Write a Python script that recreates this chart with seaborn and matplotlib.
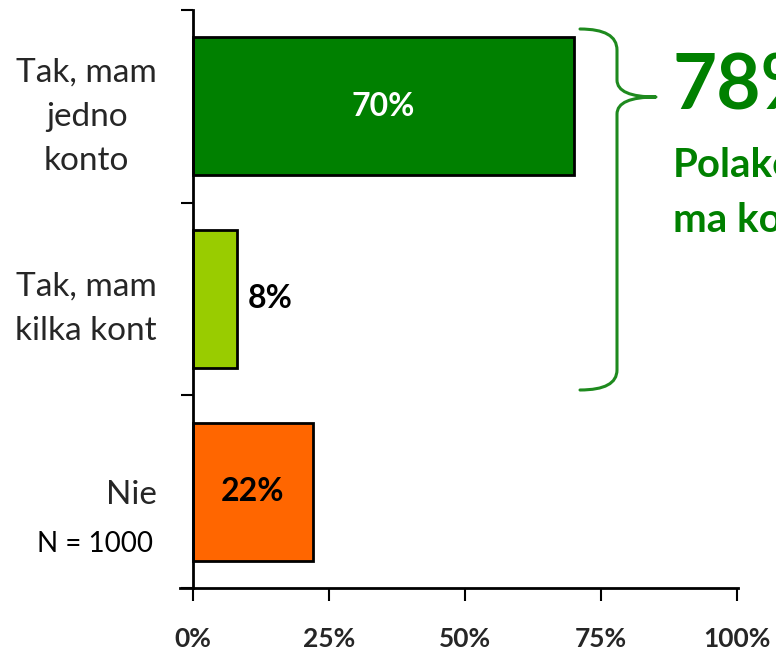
import matplotlib
matplotlib.use("Agg")
import matplotlib.pyplot as plt
import seaborn as sns
import pandas as pd
from matplotlib.path import Path
from matplotlib.patches import PathPatch

categories = ["Tak, mam\njedno\nkonto", "Tak, mam\nkilka kont", "Nie"]
values = [70, 8, 22]
bar_colors = ["#008000", "#99CC00", "#FF6600"]
value_labels = ["70%", "8%", "22%"]
label_colors = ["white", "black", "black"]
xticks = [0, 25, 50, 75, 100]
xtick_labels = ["0%", "25%", "50%", "75%", "100%"]
note = "N = 1000"
big_value = "78%"
big_text = ["Polaków", "ma konto"]

sns.set_theme(style="white")
plt.rcParams['font.family'] = ['Lato', 'DejaVu Sans']

W, H = 776, 651
fig = plt.figure(figsize=(W / 100, H / 100), dpi=100)
ax = fig.add_axes([180 / W, 1 - 588 / H, (738 - 180) / W, (588 - 10) / H])

df = pd.DataFrame({"cat": categories, "val": values})
sns.barplot(data=df, x="val", y="cat", hue="cat", palette=bar_colors,
            orient="h", width=0.716, edgecolor="black", linewidth=2,
            legend=False, ax=ax, saturation=1)

ax.set_xlim(-2.4, 100.2)
ax.set_ylim(2.5, -0.5)
ax.set_xlabel("")
ax.set_ylabel("")

for s in ["top", "right"]:
    ax.spines[s].set_visible(False)
ax.spines["left"].set_position(("data", 0))
for s in ["left", "bottom"]:
    ax.spines[s].set_color("black")
    ax.spines[s].set_linewidth(2)

ax.set_xticks(xticks)
ax.set_xticklabels(xtick_labels, fontsize=19, fontweight="bold")
ax.tick_params(axis="x", direction="out", length=9, width=1.5, color="black",
               pad=19, bottom=True)

ax.set_yticks(range(len(categories)))
ax.set_yticklabels(categories, fontsize=24, multialignment="center",
                   linespacing=1.6)
ax.tick_params(axis="y", which="major", length=0, pad=26)
ax.set_yticks([-0.5, 0.5, 1.5, 2.5], minor=True)
ax.tick_params(axis="y", which="minor", direction="out", length=9, width=1.5,
               color="black", left=True)

# value labels
for i, (v, lab, c) in enumerate(zip(values, value_labels, label_colors)):
    if v >= 15:
        ax.text(v / 2, i, lab, ha="center", va="center", fontsize=23,
                fontweight="bold", color=c)
    else:
        ax.text(v + 2.0, i, lab, ha="left", va="center", fontsize=23,
                fontweight="bold", color=c)

ax.text(-7.4, 2.27, note, ha="right", va="center", fontsize=20, color="black")

# brace
def px(x, y):
    return (x / W, 1 - y / H)

verts = [px(580, 29), px(617, 29), px(617, 50),
         px(617, 80),
         px(617, 97), px(656, 97),
         px(617, 97), px(617, 114),
         px(617, 370),
         px(617, 390), px(580, 390)]
codes = [Path.MOVETO, Path.CURVE3, Path.CURVE3,
         Path.LINETO,
         Path.CURVE3, Path.CURVE3,
         Path.CURVE3, Path.CURVE3,
         Path.LINETO,
         Path.CURVE3, Path.CURVE3]
brace = PathPatch(Path(verts, codes), transform=fig.transFigure,
                  facecolor="none", edgecolor="#1E8A1E", linewidth=2.2,
                  capstyle="round", joinstyle="round")
fig.add_artist(brace)

green = "#008000"
fig.text(673 / W, 1 - 110 / H, big_value, ha="left", va="baseline",
         fontsize=55, fontweight="bold", color=green)
fig.text(673 / W, 1 - 177 / H, big_text[0], ha="left", va="baseline",
         fontsize=29, fontweight="bold", color=green)
fig.text(673 / W, 1 - 232 / H, big_text[1], ha="left", va="baseline",
         fontsize=29, fontweight="bold", color=green)

fig.savefig("out.png", dpi=100)
